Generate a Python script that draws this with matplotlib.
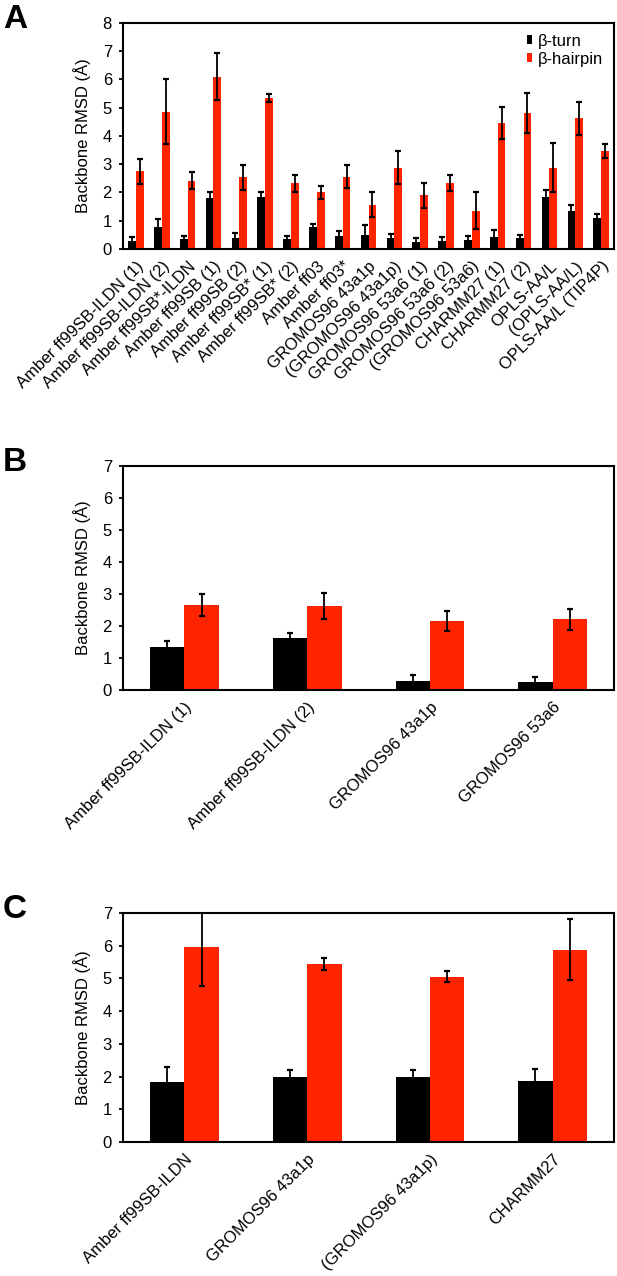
import matplotlib
matplotlib.use("Agg")
import matplotlib.pyplot as plt
import numpy as np

plt.rcParams["font.family"] = ["Liberation Sans", "DejaVu Sans"]

RED = "#ff2400"

# Panel A
labels_a = ["Amber ff99SB-ILDN (1)", "Amber ff99SB-ILDN (2)", "Amber ff99SB*-ILDN",
            "Amber ff99SB (1)", "Amber ff99SB (2)", "Amber ff99SB* (1)", "Amber ff99SB* (2)",
            "Amber ff03", "Amber ff03*", "GROMOS96 43a1p", "(GROMOS96 43a1p)",
            "GROMOS96 53a6 (1)", "GROMOS96 53a6 (2)", "(GROMOS96 53a6)",
            "CHARMM27 (1)", "CHARMM27 (2)", "OPLS-AA/L", "(OPLS-AA/L)", "OPLS-AA/L (TIP4P)"]
turn_a = [0.29, 0.76, 0.35, 1.81, 0.38, 1.85, 0.35, 0.78, 0.46, 0.49,
          0.38, 0.25, 0.29, 0.32, 0.44, 0.38, 1.84, 1.34, 1.09]
turn_a_err = [0.15, 0.29, 0.11, 0.20, 0.17, 0.17, 0.12, 0.09, 0.19, 0.36,
              0.14, 0.15, 0.15, 0.14, 0.23, 0.10, 0.23, 0.20, 0.13]
hairpin_a = [2.74, 4.86, 2.41, 6.09, 2.54, 5.33, 2.33, 2.00, 2.56, 1.56,
             2.88, 1.89, 2.33, 1.35, 4.45, 4.80, 2.88, 4.62, 3.47]
hairpin_a_err = [0.45, 1.14, 0.30, 0.83, 0.44, 0.14, 0.30, 0.24, 0.40, 0.44,
                 0.58, 0.44, 0.27, 0.65, 0.57, 0.71, 0.86, 0.59, 0.25]

# Panel B
labels_b = ["Amber ff99SB-ILDN (1)", "Amber ff99SB-ILDN (2)", "GROMOS96 43a1p", "GROMOS96 53a6"]
turn_b = [1.36, 1.64, 0.29, 0.26]
turn_b_err = [0.16, 0.13, 0.17, 0.14]
hairpin_b = [2.65, 2.63, 2.16, 2.21]
hairpin_b_err = [0.35, 0.40, 0.32, 0.32]

# Panel C
labels_c = ["Amber ff99SB-ILDN", "GROMOS96 43a1p", "(GROMOS96 43a1p)", "CHARMM27"]
turn_c = [1.83, 2.00, 1.99, 1.87]
turn_c_err = [0.47, 0.20, 0.20, 0.35]
hairpin_c = [5.96, 5.45, 5.05, 5.88]
hairpin_c_err = [1.18, 0.18, 0.17, 0.94]


def panel(ax, labels, turn, turn_err, hairpin, hairpin_err, ymax, width, capsize):
    x = np.arange(len(labels))
    ekw = dict(ecolor="black", elinewidth=1.3, capsize=capsize, capthick=1.6)
    ax.bar(x - width / 2, turn, width, yerr=turn_err, color="black",
           error_kw=ekw, label="\u03b2-turn")
    ax.bar(x + width / 2, hairpin, width, yerr=hairpin_err, color=RED,
           error_kw=ekw, label="\u03b2-hairpin")
    ax.set_xlim(-0.5, len(labels) - 0.5)
    ax.set_ylim(0, ymax)
    ax.set_yticks(range(0, ymax + 1))
    ax.set_xticks(x)
    ax.set_xticklabels(labels, rotation=45, ha="right", rotation_mode="anchor", fontsize=12)
    ax.tick_params(axis="x", length=0, pad=7)
    ax.tick_params(axis="y", length=3, width=1.3, labelsize=12, pad=5)
    ax.set_ylabel("Backbone RMSD (\u00c5)", fontsize=12, labelpad=8)
    for s in ax.spines.values():
        s.set_linewidth(1.5)


fig = plt.figure(figsize=(6.17, 12.76), dpi=100)

ax_a = fig.add_axes([0.1994, 0.8049, 0.7958, 0.1773])
panel(ax_a, labels_a, turn_a, turn_a_err, hairpin_a, hairpin_a_err, 8, 0.30, 2)
ax_a.legend(loc="upper right", frameon=False, fontsize=12, handlelength=0.3,
            handleheight=0.45, handletextpad=0.35, labelspacing=0.2,
            borderaxespad=0.25)

ax_b = fig.add_axes([0.1994, 0.4592, 0.7958, 0.1755])
panel(ax_b, labels_b, turn_b, turn_b_err, hairpin_b, hairpin_b_err, 7, 0.28, 2.5)

ax_c = fig.add_axes([0.1994, 0.1050, 0.7958, 0.1795])
panel(ax_c, labels_c, turn_c, turn_c_err, hairpin_c, hairpin_c_err, 7, 0.28, 2.5)

for ax, letter in [(ax_a, "A"), (ax_b, "B"), (ax_c, "C")]:
    pos = ax.get_position()
    fig.text(0.005, pos.y1 + 0.015, letter, fontsize=24, fontweight="bold",
             ha="left", va="top")

fig.savefig("out.png", dpi=100)
